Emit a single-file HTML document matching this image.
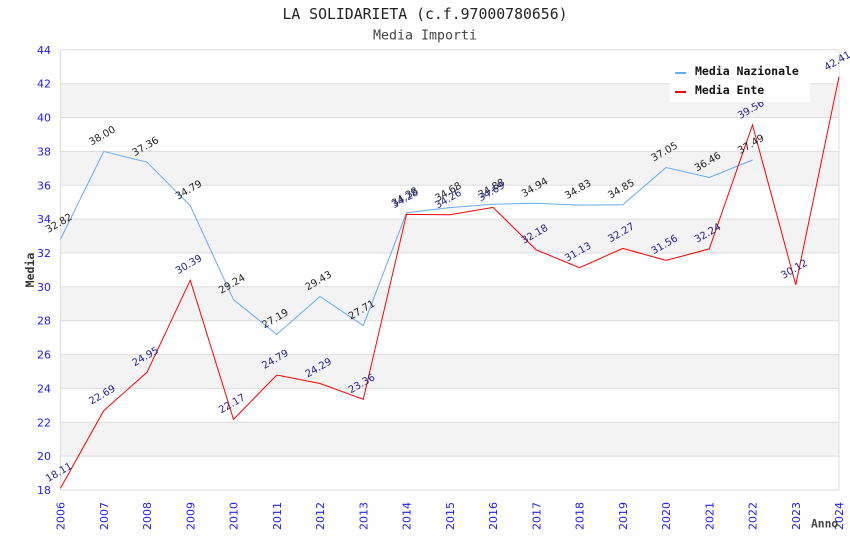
<!DOCTYPE html>
<html><head><meta charset="utf-8"><style>
html,body{margin:0;padding:0;background:#fff;}
svg{display:block;}
.tk{font-family:"DejaVu Sans","Liberation Sans",sans-serif;font-size:11px;fill:#2020ee;}
.ln{font-family:"DejaVu Sans","Liberation Sans",sans-serif;font-size:10px;fill:#222;}
.le{font-family:"DejaVu Sans","Liberation Sans",sans-serif;font-size:10px;fill:#22228b;}
.mono{font-family:"DejaVu Sans Mono","Liberation Mono",monospace;}
</style></head><body>
<svg width="850" height="550" viewBox="0 0 850 550" xmlns="http://www.w3.org/2000/svg">
<rect width="850" height="550" fill="#fff"/>
<text x="425" y="19" text-anchor="middle" class="mono" font-size="14.8" fill="#222">LA SOLIDARIETA (c.f.97000780656)</text>
<text x="425" y="39.5" text-anchor="middle" class="mono" font-size="13.3" fill="#444">Media Importi</text>
<g fill="#f3f3f3">
<rect x="60.5" y="83.7" width="778.5" height="33.8"/>
<rect x="60.5" y="151.4" width="778.5" height="33.9"/>
<rect x="60.5" y="219.1" width="778.5" height="33.9"/>
<rect x="60.5" y="286.8" width="778.5" height="33.9"/>
<rect x="60.5" y="354.6" width="778.5" height="33.8"/>
<rect x="60.5" y="422.3" width="778.5" height="33.8"/>
</g>
<g stroke="#dddddd" stroke-width="1">
<line x1="60.5" x2="839" y1="49.8" y2="49.8"/>
<line x1="60.5" x2="839" y1="83.7" y2="83.7"/>
<line x1="60.5" x2="839" y1="117.5" y2="117.5"/>
<line x1="60.5" x2="839" y1="151.4" y2="151.4"/>
<line x1="60.5" x2="839" y1="185.3" y2="185.3"/>
<line x1="60.5" x2="839" y1="219.1" y2="219.1"/>
<line x1="60.5" x2="839" y1="253" y2="253"/>
<line x1="60.5" x2="839" y1="286.8" y2="286.8"/>
<line x1="60.5" x2="839" y1="320.7" y2="320.7"/>
<line x1="60.5" x2="839" y1="354.6" y2="354.6"/>
<line x1="60.5" x2="839" y1="388.4" y2="388.4"/>
<line x1="60.5" x2="839" y1="422.3" y2="422.3"/>
<line x1="60.5" x2="839" y1="456.1" y2="456.1"/>
<line x1="60.5" x2="839" y1="490" y2="490"/>
<line x1="60.5" x2="60.5" y1="49.8" y2="490"/>
<line x1="839" x2="839" y1="49.8" y2="490"/>
</g>
<g class="tk" text-anchor="end">
<text x="51" y="53.8">44</text>
<text x="51" y="87.7">42</text>
<text x="51" y="121.5">40</text>
<text x="51" y="155.4">38</text>
<text x="51" y="189.3">36</text>
<text x="51" y="223.1">34</text>
<text x="51" y="257">32</text>
<text x="51" y="290.8">30</text>
<text x="51" y="324.7">28</text>
<text x="51" y="358.6">26</text>
<text x="51" y="392.4">24</text>
<text x="51" y="426.3">22</text>
<text x="51" y="460.1">20</text>
<text x="51" y="494">18</text>
</g>
<g class="tk" text-anchor="end">
<text transform="translate(64.5,502) rotate(-90)">2006</text>
<text transform="translate(107.75,502) rotate(-90)">2007</text>
<text transform="translate(151,502) rotate(-90)">2008</text>
<text transform="translate(194.25,502) rotate(-90)">2009</text>
<text transform="translate(237.5,502) rotate(-90)">2010</text>
<text transform="translate(280.75,502) rotate(-90)">2011</text>
<text transform="translate(324,502) rotate(-90)">2012</text>
<text transform="translate(367.25,502) rotate(-90)">2013</text>
<text transform="translate(410.5,502) rotate(-90)">2014</text>
<text transform="translate(453.75,502) rotate(-90)">2015</text>
<text transform="translate(497,502) rotate(-90)">2016</text>
<text transform="translate(540.25,502) rotate(-90)">2017</text>
<text transform="translate(583.5,502) rotate(-90)">2018</text>
<text transform="translate(626.75,502) rotate(-90)">2019</text>
<text transform="translate(670,502) rotate(-90)">2020</text>
<text transform="translate(713.25,502) rotate(-90)">2021</text>
<text transform="translate(756.5,502) rotate(-90)">2022</text>
<text transform="translate(799.75,502) rotate(-90)">2023</text>
<text transform="translate(843,502) rotate(-90)">2024</text>
</g>
<text transform="translate(34,270) rotate(-90)" text-anchor="middle" class="mono" font-size="11.5" font-weight="bold" fill="#333">Media</text>
<text x="811" y="527.5" class="mono" font-size="11.3" font-weight="bold" fill="#444">Anno</text>
<polyline fill="none" stroke="#66aaee" stroke-width="1" points="60.5,239.1 103.75,151.4 147,162.2 190.25,205.7 233.5,299.7 276.75,334.4 320,296.5 363.25,325.6 406.5,212.7 449.75,207.6 493,204.2 536.25,203.2 579.5,205.1 622.75,204.7 666,167.5 709.25,177.5 752.5,160"/>
<polyline fill="none" stroke="#ff0000" stroke-width="1" points="60.5,488.1 103.75,410.6 147,372.3 190.25,280.2 233.5,419.4 276.75,375 320,383.5 363.25,399.3 406.5,214.4 449.75,214.7 493,207.4 536.25,249.9 579.5,267.7 622.75,248.4 666,260.4 709.25,248.9 752.5,125 795.75,284.8 839,76.7"/>
<g class="ln" text-anchor="middle">
<text transform="translate(60.5,226) rotate(-30)">32.82</text>
<text transform="translate(103.75,138.5) rotate(-30)">38.00</text>
<text transform="translate(147,149.2) rotate(-30)">37.36</text>
<text transform="translate(190.25,192.7) rotate(-30)">34.79</text>
<text transform="translate(233.5,286.7) rotate(-30)">29.24</text>
<text transform="translate(276.75,321.4) rotate(-30)">27.19</text>
<text transform="translate(320,283.5) rotate(-30)">29.43</text>
<text transform="translate(363.25,312.6) rotate(-30)">27.71</text>
<text transform="translate(406.5,199.7) rotate(-30)">34.38</text>
<text transform="translate(449.75,194.6) rotate(-30)">34.68</text>
<text transform="translate(493,191.2) rotate(-30)">34.88</text>
<text transform="translate(536.25,190.2) rotate(-30)">34.94</text>
<text transform="translate(579.5,192.1) rotate(-30)">34.83</text>
<text transform="translate(622.75,191.7) rotate(-30)">34.85</text>
<text transform="translate(666,154.5) rotate(-30)">37.05</text>
<text transform="translate(709.25,164.5) rotate(-30)">36.46</text>
<text transform="translate(752.5,147) rotate(-30)">37.49</text>
</g>
<g class="le" text-anchor="middle">
<text transform="translate(60.5,475.1) rotate(-30)">18.11</text>
<text transform="translate(103.75,397.6) rotate(-30)">22.69</text>
<text transform="translate(147,359.3) rotate(-30)">24.95</text>
<text transform="translate(190.25,267.2) rotate(-30)">30.39</text>
<text transform="translate(233.5,406.4) rotate(-30)">22.17</text>
<text transform="translate(276.75,362) rotate(-30)">24.79</text>
<text transform="translate(320,370.5) rotate(-30)">24.29</text>
<text transform="translate(363.25,386.3) rotate(-30)">23.36</text>
<text transform="translate(406.5,201.4) rotate(-30)">34.28</text>
<text transform="translate(449.75,201.7) rotate(-30)">34.26</text>
<text transform="translate(493,194.4) rotate(-30)">34.69</text>
<text transform="translate(536.25,236.9) rotate(-30)">32.18</text>
<text transform="translate(579.5,254.7) rotate(-30)">31.13</text>
<text transform="translate(622.75,235.4) rotate(-30)">32.27</text>
<text transform="translate(666,247.4) rotate(-30)">31.56</text>
<text transform="translate(709.25,235.9) rotate(-30)">32.24</text>
<text transform="translate(752.5,112) rotate(-30)">39.56</text>
<text transform="translate(795.75,271.8) rotate(-30)">30.12</text>
<text transform="translate(839,63.7) rotate(-30)">42.41</text>
</g>
<rect x="670" y="58" width="140" height="44" fill="#fff"/>
<line x1="675" x2="686" y1="73" y2="73" stroke="#66aaee" stroke-width="2"/>
<line x1="675" x2="686" y1="92" y2="92" stroke="#ff0000" stroke-width="2"/>
<text x="695" y="75" class="mono" font-size="11.5" font-weight="bold" fill="#111">Media Nazionale</text>
<text x="695" y="94" class="mono" font-size="11.5" font-weight="bold" fill="#111">Media Ente</text>
</svg>
</body></html>
